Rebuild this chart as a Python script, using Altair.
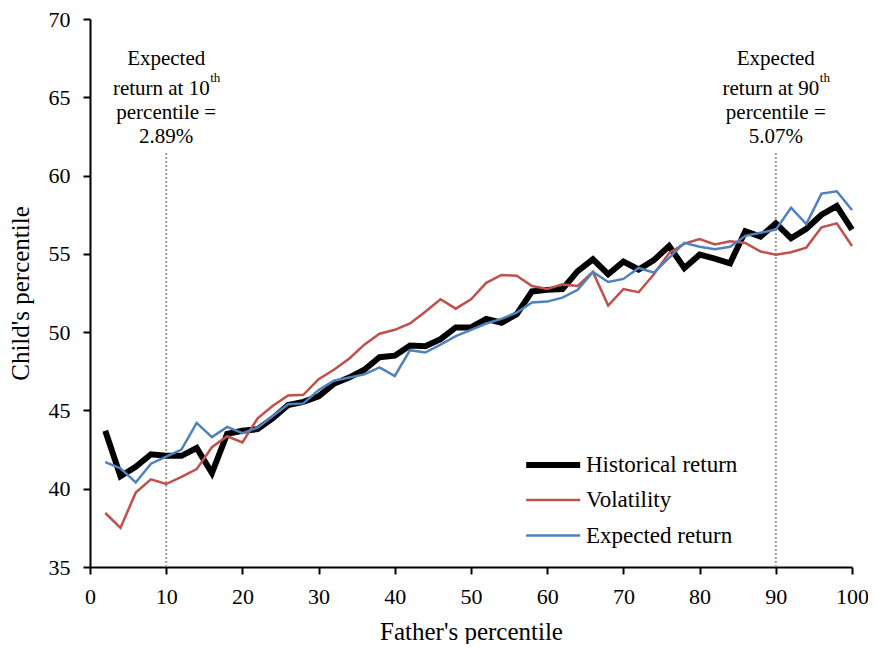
import altair as alt
import pandas as pd

pct = list(range(2, 101, 2))
historical = [43.7, 40.8, 41.4, 42.2, 42.1, 42.1, 42.6, 41.0, 43.5, 43.7,
              43.8, 44.5, 45.35, 45.55, 45.9, 46.7, 47.1, 47.6, 48.4, 48.5,
              49.15, 49.1, 49.55, 50.3, 50.3, 50.85, 50.6, 51.15, 52.6, 52.7,
              52.75, 53.9, 54.65, 53.7, 54.5, 54.0, 54.6, 55.5, 54.1, 54.95,
              54.7, 54.4, 56.45, 56.1, 56.95, 56.0, 56.6, 57.5, 58.05, 56.55]
volatility = [38.45, 37.5, 39.75, 40.6, 40.3, 40.75, 41.25, 42.65, 43.35, 42.95,
              44.5, 45.3, 45.95, 46.0, 47.0, 47.6, 48.3, 49.2, 49.9, 50.15,
              50.55, 51.3, 52.1, 51.5, 52.1, 53.15, 53.65, 53.6, 52.95, 52.75,
              53.05, 52.95, 53.85, 51.7, 52.75, 52.55, 53.7, 55.05, 55.65, 55.95,
              55.6, 55.8, 55.7, 55.15, 54.95, 55.1, 55.4, 56.7, 56.95, 55.5]
expected = [41.7, 41.3, 40.4, 41.6, 42.05, 42.5, 44.2, 43.3, 43.95, 43.55,
            43.9, 44.65, 45.4, 45.45, 46.3, 46.9, 47.1, 47.3, 47.75, 47.2,
            48.85, 48.7, 49.2, 49.75, 50.15, 50.55, 50.85, 51.25, 51.9, 51.95,
            52.2, 52.7, 53.85, 53.2, 53.4, 54.1, 53.8, 54.75, 55.7, 55.45,
            55.3, 55.45, 56.15, 56.35, 56.55, 57.95, 56.9, 58.85, 59.0, 57.8]

series_names = ["Historical return", "Volatility", "Expected return"]
series_colors = ["#000000", "#C0504D", "#4F81BD"]
series_widths = [6, 2.5, 2.5]

x_ticks = list(range(0, 101, 10))
y_ticks = list(range(35, 71, 5))

marker_x = [10, 90]
marker_top = 61.5
left_lines = ["Expected", "return at 10", "percentile =", "2.89%"]
right_lines = ["Expected", "return at 90", "percentile =", "5.07%"]
line_y = [67.07, 65.16, 63.6, 62.08]
sup_y = 66.0

FONT = "Liberation Serif"

df = pd.DataFrame({
    "pct": pct * 3,
    "value": historical + volatility + expected,
    "series": [series_names[0]] * len(pct) + [series_names[1]] * len(pct) + [series_names[2]] * len(pct),
})

xscale = alt.Scale(domain=[0, 100], nice=False)
yscale = alt.Scale(domain=[35, 70], nice=False, zero=False)

# legend symbol: a long horizontal stroke drawn to the right of the symbol origin
leg = alt.Legend(
    title=None, orient="none", legendX=433, legendY=432,
    symbolType="M-1,0H4", symbolSize=466, labelFontSize=23, labelFont=FONT,
    labelColor="black", labelOffset=35, rowPadding=10.5, padding=0,
)

lines = alt.Chart(df).mark_line().encode(
    x=alt.X("pct:Q", scale=xscale,
            axis=alt.Axis(title="Father's percentile", values=x_ticks, format="d",
                          labelFont=FONT, titleFont=FONT)),
    y=alt.Y("value:Q", scale=yscale,
            axis=alt.Axis(title="Child's percentile", values=y_ticks, format="d",
                          labelFont=FONT, titleFont=FONT)),
    color=alt.Color("series:N", scale=alt.Scale(domain=series_names, range=series_colors), legend=leg),
    strokeWidth=alt.StrokeWidth("series:N", scale=alt.Scale(type="ordinal", domain=series_names, range=series_widths), legend=leg),
)

rule_df = pd.DataFrame({"x": marker_x, "y": [35, 35], "y2": [marker_top, marker_top]})
rules = alt.Chart(rule_df).mark_rule(color="#9a9a9a", strokeDash=[2, 2], strokeWidth=2).encode(
    x="x:Q", y="y:Q", y2="y2:Q"
)

rows = []
for xv, lines_txt in zip(marker_x, [left_lines, right_lines]):
    for i, t in enumerate(lines_txt):
        rows.append({"x": xv, "y": line_y[i], "text": t, "kind": "sup_base" if i == 1 else "plain"})
ann_df = pd.DataFrame(rows)

ann_plain = alt.Chart(ann_df).transform_filter(alt.datum.kind == "plain").mark_text(
    font=FONT, fontSize=21, color="black", align="center", baseline="alphabetic"
).encode(x="x:Q", y="y:Q", text="text:N")

ann_base = alt.Chart(ann_df).transform_filter(alt.datum.kind == "sup_base").mark_text(
    font=FONT, fontSize=21, color="black", align="right", baseline="alphabetic", dx=43.5
).encode(x="x:Q", y="y:Q", text="text:N")

sup_df = pd.DataFrame({"x": marker_x, "y": [sup_y, sup_y], "text": ["th", "th"]})
ann_sup = alt.Chart(sup_df).mark_text(
    font=FONT, fontSize=13, color="black", align="left", baseline="alphabetic", dx=44
).encode(x="x:Q", y="y:Q", text="text:N")

chart = alt.layer(rules, lines, ann_plain, ann_base, ann_sup).properties(
    width=762, height=548,
    autosize=alt.AutoSizeParams(type="none"),
    padding={"left": 82, "top": 11, "right": 16, "bottom": 77},
).configure(font=FONT).configure_view(stroke=None).configure_axis(
    grid=False, domainColor="black", domainWidth=2, tickColor="black", tickWidth=2,
    tickSize=7, labelFont=FONT, labelFontSize=22, labelColor="black",
    titleFont=FONT, titleFontSize=25, titleFontWeight="normal", titleColor="black",
).configure_axisX(labelPadding=12, titlePadding=12, labelFlush=False
).configure_axisY(labelPadding=13, titlePadding=15
).configure_legend(labelFont=FONT)

chart.save("out.html", embed_options={"renderer": "svg", "actions": False})
